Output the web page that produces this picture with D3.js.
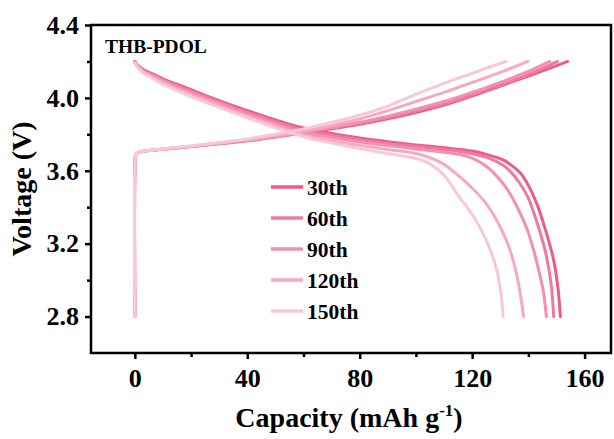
<!DOCTYPE html>
<html>
<head>
<meta charset="utf-8">
<script src="https://cdn.jsdelivr.net/npm/d3@7/dist/d3.min.js"></script>
<style>
  html, body { margin: 0; padding: 0; background: #fff; }
  svg { display: block; }
  text { font-family: "Liberation Serif", "Times New Roman", serif; font-weight: bold; fill: #000; }
</style>
</head>
<body>
<svg id="chart" width="614" height="439"></svg>
<script>
// Cycle labels and line colours
const cycles = ["30th", "60th", "90th", "120th", "150th"];
const colors = ["#ee5a8c", "#f07a9f", "#f290b0", "#f5a9c3", "#f9c8d8"];

// Charge curves: [capacity (mAh g-1), voltage (V)]
const charge30 = [[0,2.80],[0,3.60],[0.3,3.685],[1.2,3.700],[10,3.718],[20,3.733],[30,3.748],[40,3.765],[50,3.785],[60,3.808],[70,3.830],[80,3.855],[90,3.885],[100,3.920],[110,3.960],[120,4.010],[130,4.065],[140,4.120],[148,4.165],[154,4.200]];
const charge60 = [[0,2.80],[0,3.60],[0.3,3.685],[1.2,3.700],[10,3.718],[20,3.733],[30,3.749],[40,3.766],[50,3.786],[60,3.810],[70,3.834],[80,3.860],[90,3.892],[100,3.928],[110,3.968],[120,4.017],[130,4.070],[140,4.128],[150.4,4.200]];
const charge90 = [[0,2.80],[0,3.60],[0.3,3.685],[1.2,3.700],[10,3.718],[20,3.734],[30,3.750],[40,3.768],[50,3.788],[60,3.812],[70,3.838],[80,3.866],[90,3.900],[100,3.938],[110,3.980],[120,4.030],[130,4.085],[140,4.145],[147.6,4.200]];
const charge120 = [[0,2.80],[0,3.60],[0.3,3.685],[1.2,3.700],[10,3.719],[20,3.735],[30,3.752],[40,3.770],[50,3.792],[60,3.818],[70,3.848],[80,3.884],[90,3.930],[100,3.980],[110,4.030],[120,4.085],[130,4.140],[139.9,4.200]];
const charge150 = [[0,2.80],[0,3.60],[0.3,3.685],[1.2,3.700],[10,3.720],[20,3.737],[30,3.755],[40,3.775],[50,3.800],[60,3.830],[70,3.865],[80,3.905],[90,3.955],[100,4.020],[110,4.080],[120,4.135],[126,4.168],[132.1,4.200]];

// Discharge curves: [capacity (mAh g-1), voltage (V)]
const discharge30 = [[0,4.200],[1,4.180],[3,4.155],[6.5,4.130],[10,4.105],[18,4.057],[30,3.985],[42,3.920],[54,3.860],[60,3.835],[70,3.805],[80,3.780],[90,3.760],[100,3.742],[110,3.726],[120,3.708],[125,3.690],[131,3.660],[134,3.630],[137,3.590],[140,3.520],[143,3.420],[146,3.280],[149,3.110],[150.5,2.960],[151.4,2.800]];
const discharge60 = [[0,4.200],[1,4.178],[3,4.152],[6.5,4.126],[10,4.099],[18,4.049],[30,3.977],[42,3.910],[54,3.850],[60,3.823],[70,3.795],[80,3.770],[90,3.750],[100,3.733],[110,3.717],[118,3.700],[125,3.675],[131,3.630],[134,3.590],[137,3.530],[140,3.450],[143,3.320],[146,3.160],[148,2.990],[149,2.800]];
const discharge90 = [[0,4.195],[1,4.175],[3,4.147],[6.5,4.120],[10,4.093],[18,4.040],[30,3.968],[42,3.900],[54,3.838],[60,3.810],[70,3.782],[80,3.758],[90,3.738],[100,3.720],[110,3.702],[118,3.680],[125,3.625],[131,3.530],[134,3.460],[137,3.370],[140,3.260],[142.8,3.110],[145.3,2.940],[146.4,2.800]];
const discharge120 = [[0,4.195],[1,4.172],[3,4.142],[6.5,4.112],[10,4.085],[18,4.030],[30,3.958],[42,3.890],[54,3.826],[60,3.797],[70,3.765],[80,3.740],[90,3.717],[100,3.695],[105,3.672],[110,3.635],[113,3.600],[119,3.520],[125,3.420],[131,3.260],[134,3.140],[136.5,2.980],[138.3,2.800]];
const discharge150 = [[0,4.190],[1,4.166],[3,4.136],[6.5,4.105],[10,4.075],[18,4.020],[30,3.948],[42,3.880],[54,3.815],[60,3.787],[70,3.752],[80,3.722],[90,3.695],[100,3.667],[105,3.638],[110,3.575],[115,3.465],[120,3.360],[125,3.220],[128.5,3.070],[130.3,2.920],[131,2.800]];

const chargeSeries = [charge30, charge60, charge90, charge120, charge150];
const dischargeSeries = [discharge30, discharge60, discharge90, discharge120, discharge150];

// Axis ticks
const xTicks = [0, 40, 80, 120, 160];
const xMinorTicks = [20, 60, 100, 140];
const yTicks = [2.8, 3.2, 3.6, 4.0, 4.4];
const yMinorTicks = [3.0, 3.4, 3.8, 4.2];

const svg = d3.select("#chart");
const margin = { left: 91, right: 3, top: 25, bottom: 86 };
const W = 614, H = 439;
const plotW = W - margin.left - margin.right;
const plotH = H - margin.top - margin.bottom;

const x = d3.scaleLinear().domain([-15.6, 169.4]).range([margin.left, margin.left + plotW]);
const y = d3.scaleLinear().domain([2.6, 4.4]).range([margin.top + plotH, margin.top]);

const line = d3.line()
  .x(d => x(d[0]))
  .y(d => y(d[1]))
  .curve(d3.curveCatmullRom.alpha(0.5));

// Curves: earlier cycles first so later cycles sit on top
const curves = svg.append("g");
cycles.forEach((c, i) => {
  [chargeSeries[i], dischargeSeries[i]].forEach(data => {
    curves.append("path")
      .attr("d", line(data))
      .attr("fill", "none")
      .attr("stroke", colors[i])
      .attr("stroke-width", 3)
      .attr("stroke-linecap", "round")
      .attr("stroke-linejoin", "round");
  });
});

// Frame
svg.append("rect")
  .attr("x", margin.left)
  .attr("y", margin.top)
  .attr("width", plotW)
  .attr("height", plotH)
  .attr("fill", "none")
  .attr("stroke", "#000")
  .attr("stroke-width", 2.5);

// Bottom axis
const xAxis = svg.append("g").attr("transform", `translate(0,${margin.top + plotH})`);
xAxis.call(d3.axisBottom(x).tickValues(xTicks).tickSizeInner(6).tickSizeOuter(0).tickPadding(10).tickFormat(d3.format("d")));
xAxis.append("g").call(d3.axisBottom(x).tickValues(xMinorTicks).tickSizeInner(4).tickSizeOuter(0).tickFormat(""));
xAxis.selectAll(".domain").remove();
xAxis.selectAll("line").attr("stroke", "#000").attr("stroke-width", 2.5);
xAxis.selectAll("text").attr("font-size", 26).attr("font-family", "Liberation Serif").attr("font-weight", "bold").attr("fill", "#000");

// Left axis
const yAxis = svg.append("g").attr("transform", `translate(${margin.left},0)`);
yAxis.call(d3.axisLeft(y).tickValues(yTicks).tickSizeInner(6).tickSizeOuter(0).tickPadding(6).tickFormat(d3.format(".1f")));
yAxis.append("g").call(d3.axisLeft(y).tickValues(yMinorTicks).tickSizeInner(4).tickSizeOuter(0).tickFormat(""));
yAxis.selectAll(".domain").remove();
yAxis.selectAll("line").attr("stroke", "#000").attr("stroke-width", 2.5);
yAxis.selectAll("text").attr("font-size", 26).attr("font-family", "Liberation Serif").attr("font-weight", "bold").attr("fill", "#000");

// Axis titles
const xTitle = svg.append("text")
  .attr("x", margin.left + plotW / 2 - 2)
  .attr("y", 427)
  .attr("text-anchor", "middle")
  .attr("font-size", 28);
xTitle.append("tspan").text("Capacity (mAh g");
xTitle.append("tspan").attr("font-size", 17).attr("dy", -11).text("-1");
xTitle.append("tspan").attr("dy", 11).text(")");

svg.append("text")
  .attr("transform", `translate(31,${margin.top + plotH / 2}) rotate(-90)`)
  .attr("text-anchor", "middle")
  .attr("font-size", 28)
  .text("Voltage (V)");

// Sample label
svg.append("text")
  .attr("x", 105)
  .attr("y", 52.5)
  .attr("font-size", 19.5)
  .text("THB-PDOL");

// Legend
const legend = svg.append("g");
cycles.forEach((c, i) => {
  const ly = 187 + i * 31;
  legend.append("line")
    .attr("x1", 271).attr("x2", 303)
    .attr("y1", ly).attr("y2", ly)
    .attr("stroke", colors[i])
    .attr("stroke-width", 3.5);
  legend.append("text")
    .attr("x", 307)
    .attr("y", ly + 7.5)
    .attr("font-size", 21.5)
    .text(c);
});
</script>
</body>
</html>
